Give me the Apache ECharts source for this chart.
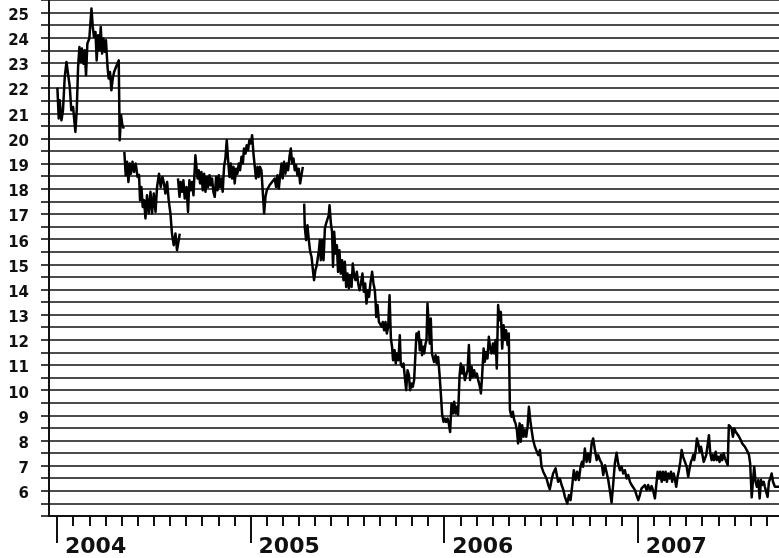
<!DOCTYPE html>
<html>
<head>
<meta charset="utf-8">
<script src="https://cdn.jsdelivr.net/npm/echarts@6/dist/echarts.min.js"></script>
<style>
html,body{margin:0;padding:0;background:#fff;}
#chart{width:779px;height:558px;}
</style>
</head>
<body>
<div id="chart"></div>
<script>
// Price series, [decimal year, value]; separate arrays where the line is broken
const seg1 = [[2004.002,22.02],[2004.009,20.79],[2004.014,21.52],[2004.023,20.72],[2004.031,21.12],[2004.040,22.44],[2004.049,23.04],[2004.057,22.97],[2004.066,22.05],[2004.074,21.12],[2004.083,21.25],[2004.095,20.26],[2004.102,21.12],[2004.109,22.84],[2004.116,23.63],[2004.123,23.04],[2004.129,23.57],[2004.136,22.97],[2004.143,23.50],[2004.150,22.51],[2004.157,23.77],[2004.167,23.97],[2004.178,25.16],[2004.185,24.43],[2004.191,24.03],[2004.199,24.23],[2004.205,23.10],[2004.212,24.10],[2004.219,23.50],[2004.226,24.43],[2004.233,23.37],[2004.240,23.97],[2004.247,23.44],[2004.253,23.90],[2004.261,22.84],[2004.267,22.38],[2004.274,22.64],[2004.281,21.91],[2004.288,22.38],[2004.295,22.64],[2004.305,22.84],[2004.319,23.10],[2004.324,19.93],[2004.331,20.92],[2004.338,20.52],[2004.345,20.39]];
const seg2 = [[2004.348,19.46],[2004.355,18.54],[2004.362,19.07],[2004.369,18.27],[2004.376,19.00],[2004.382,18.60],[2004.390,19.07],[2004.398,18.67],[2004.407,19.00],[2004.416,18.47],[2004.424,18.55],[2004.429,17.55],[2004.436,18.07],[2004.443,17.28],[2004.450,17.55],[2004.457,16.82],[2004.465,17.74],[2004.474,17.02],[2004.483,17.88],[2004.491,17.02],[2004.500,17.81],[2004.509,17.08],[2004.517,18.07],[2004.527,18.60],[2004.536,18.07],[2004.545,18.47],[2004.553,18.21],[2004.560,17.81],[2004.569,18.27],[2004.577,17.55],[2004.586,17.02],[2004.594,16.22],[2004.603,15.76],[2004.612,16.22],[2004.620,15.56],[2004.629,15.96],[2004.634,16.22]];
const seg3 = [[2004.625,18.41],[2004.633,17.68],[2004.639,18.27],[2004.646,17.88],[2004.653,18.34],[2004.660,17.61],[2004.669,18.07],[2004.677,17.08],[2004.684,18.34],[2004.691,17.94],[2004.698,18.27],[2004.705,17.74],[2004.715,19.33],[2004.726,18.41],[2004.732,18.74],[2004.739,18.21],[2004.746,18.67],[2004.753,17.94],[2004.760,18.60],[2004.767,17.88],[2004.774,18.47],[2004.780,18.07],[2004.788,18.54],[2004.794,18.14],[2004.801,18.41],[2004.808,17.88],[2004.815,17.68],[2004.822,18.47],[2004.829,17.94],[2004.836,18.54],[2004.842,18.07],[2004.850,18.41],[2004.856,17.88],[2004.863,18.87],[2004.870,19.20],[2004.877,19.93],[2004.884,19.14],[2004.891,18.47],[2004.898,19.00],[2004.904,18.41],[2004.912,18.87],[2004.918,18.21],[2004.925,18.80],[2004.932,18.60],[2004.939,19.00],[2004.946,18.74],[2004.953,19.27],[2004.960,19.00],[2004.966,19.60],[2004.974,19.40],[2004.980,19.73],[2004.987,19.53],[2004.994,19.93],[2005.001,19.80],[2005.008,20.13],[2005.015,19.40],[2005.022,18.87],[2005.028,18.41],[2005.036,18.87],[2005.042,18.47],[2005.049,18.87],[2005.056,18.74],[2005.070,17.02],[2005.077,17.68],[2005.084,17.94],[2005.090,18.01],[2005.098,18.14],[2005.104,18.07],[2005.111,18.27],[2005.118,18.21],[2005.125,18.41],[2005.132,18.07],[2005.139,18.54],[2005.146,18.01],[2005.153,18.54],[2005.160,19.00],[2005.166,18.41],[2005.173,19.07],[2005.180,18.60],[2005.187,19.00],[2005.194,18.74],[2005.201,19.27],[2005.208,19.60],[2005.215,19.00],[2005.222,19.20],[2005.228,18.74],[2005.235,18.94],[2005.242,18.54],[2005.249,18.80],[2005.256,18.21],[2005.263,18.54],[2005.270,18.87]];
const seg4 = [[2005.277,17.41],[2005.280,16.49],[2005.287,15.96],[2005.294,16.55],[2005.301,15.96],[2005.308,15.49],[2005.315,15.30],[2005.323,14.70],[2005.328,14.37],[2005.335,14.77],[2005.342,14.96],[2005.353,15.56],[2005.358,15.96],[2005.363,15.16],[2005.370,15.96],[2005.377,15.16],[2005.384,16.42],[2005.390,16.62],[2005.397,16.69],[2005.404,16.95],[2005.408,17.35],[2005.415,16.62],[2005.421,16.29],[2005.426,14.90],[2005.432,16.29],[2005.439,15.43],[2005.446,15.76],[2005.452,14.70],[2005.459,15.56],[2005.466,14.63],[2005.473,15.16],[2005.480,14.37],[2005.487,15.10],[2005.494,14.10],[2005.501,14.63],[2005.508,14.04],[2005.514,14.57],[2005.522,14.10],[2005.528,15.03],[2005.535,14.57],[2005.542,14.37],[2005.549,14.70],[2005.556,14.24],[2005.563,13.97],[2005.570,14.24],[2005.578,14.63],[2005.585,13.91],[2005.592,14.24],[2005.599,13.44],[2005.606,13.97],[2005.612,13.71],[2005.620,14.30],[2005.628,14.70],[2005.635,14.24],[2005.642,13.97],[2005.646,13.51],[2005.649,12.91],[2005.656,13.38],[2005.663,12.71],[2005.669,12.65],[2005.677,12.52],[2005.683,12.71],[2005.690,12.38],[2005.697,12.71],[2005.704,12.25],[2005.711,12.52],[2005.718,13.77],[2005.725,12.05],[2005.731,11.72],[2005.736,11.19],[2005.744,11.59],[2005.750,11.06],[2005.757,11.46],[2005.764,11.19],[2005.771,12.18],[2005.776,11.06],[2005.783,10.93],[2005.790,11.06],[2005.797,10.53],[2005.804,10.00],[2005.811,10.79],[2005.818,10.60],[2005.824,10.00],[2005.832,10.26],[2005.838,10.13],[2005.845,10.40],
[2005.857,12.25],[2005.863,11.99],[2005.869,12.32],[2005.874,11.59],[2005.880,11.99],[2005.886,11.39],[2005.892,11.72],[2005.897,11.46],[2005.904,11.85],[2005.909,11.99],[2005.914,13.44],[2005.921,12.52],[2005.926,11.85],[2005.931,12.85],[2005.937,11.46],[2005.942,11.52],[2005.948,11.12],[2005.956,11.39],[2005.962,11.06],[2005.969,11.32],[2005.976,10.66],[2005.983,9.87],[2005.990,9.01],[2005.997,8.74],[2006.004,8.87],[2006.010,8.74],[2006.018,8.87],[2006.024,8.68],[2006.031,8.34],[2006.038,9.47],[2006.045,9.07],[2006.052,9.54],[2006.059,9.07],[2006.066,9.34],[2006.072,9.01],[2006.080,10.60],[2006.086,11.06],[2006.093,10.66],[2006.100,10.93],[2006.107,10.40],[2006.114,10.60],[2006.121,10.79],[2006.128,11.79],[2006.134,10.40],[2006.142,10.93],[2006.148,10.53],[2006.155,10.79],[2006.162,10.53],[2006.169,10.66],[2006.176,10.40],[2006.183,10.20],[2006.190,9.87],[2006.196,10.53],[2006.204,11.65],[2006.210,11.12],[2006.217,11.52],[2006.224,11.26],[2006.231,12.12],[2006.238,11.65],[2006.245,11.46],[2006.252,11.85],[2006.258,11.46],[2006.266,11.99],[2006.272,10.86],[2006.279,13.38],[2006.286,12.78],[2006.293,13.11],[2006.300,11.65],[2006.307,12.58],[2006.314,11.99],[2006.320,12.38],[2006.328,11.79],[2006.334,12.25],[2006.340,9.21],[2006.348,8.94],[2006.355,9.14],[2006.362,8.81],[2006.369,8.68],[2006.376,8.41],[2006.382,7.88],[2006.390,8.68],[2006.396,7.95],[2006.403,8.61],[2006.410,8.15],[2006.417,8.41],[2006.424,8.15],[2006.431,8.54],[2006.438,9.34],[2006.445,8.81],[2006.452,8.41],[2006.460,8.01],[2006.469,7.75],
[2006.478,7.68],[2006.486,7.42],[2006.495,7.62],[2006.503,6.96],[2006.512,6.76],[2006.520,6.82],[2006.529,6.49],[2006.538,6.23],[2006.546,6.06],[2006.555,6.43],[2006.563,6.69],[2006.576,6.89],[2006.582,6.63],[2006.589,6.36],[2006.598,6.49],[2006.607,6.23],[2006.615,6.06],[2006.624,5.76],[2006.636,5.50],[2006.645,5.83],[2006.653,5.63],[2006.662,6.23],[2006.670,6.82],[2006.679,6.43],[2006.687,6.76],[2006.696,6.43],[2006.705,6.96],[2006.712,7.15],[2006.718,6.96],[2006.727,7.68],[2006.736,7.15],[2006.744,7.48],[2006.753,7.15],[2006.762,7.88],[2006.770,8.08],[2006.779,7.62],[2006.788,7.22],[2006.796,7.42],[2006.805,7.22],[2006.814,7.09],[2006.822,6.63],[2006.831,7.02],[2006.839,6.96],[2006.848,6.43],[2006.856,6.03],[2006.865,5.53],[2006.873,6.23],[2006.882,7.09],[2006.891,7.51],[2006.899,7.09],[2006.908,6.82],[2006.917,6.96],[2006.925,6.69],[2006.934,6.82],[2006.943,6.49],[2006.951,6.63],[2006.960,6.36],[2006.969,6.23],[2006.977,6.16],[2006.986,6.03],[2006.994,5.83],[2007.003,5.63],[2007.011,5.83],[2007.020,6.10],[2007.028,6.03],[2007.037,6.23],[2007.046,6.03],[2007.054,6.23],[2007.063,6.03],[2007.072,6.19],[2007.080,6.00],[2007.089,5.70],
[2007.094,5.74],[2007.103,6.76],[2007.110,6.49],[2007.116,6.76],[2007.124,6.36],[2007.130,6.76],[2007.137,6.43],[2007.144,6.76],[2007.151,6.36],[2007.158,6.69],[2007.165,6.49],[2007.172,6.76],[2007.178,6.36],[2007.186,6.69],[2007.192,6.49],[2007.199,6.16],[2007.206,6.56],[2007.213,6.82],[2007.220,7.15],[2007.227,7.62],[2007.235,7.35],[2007.244,7.15],[2007.253,6.96],[2007.261,6.56],[2007.268,6.89],[2007.275,7.15],[2007.282,7.29],[2007.287,7.42],[2007.292,7.22],[2007.299,7.55],[2007.306,8.08],[2007.313,7.88],[2007.320,7.55],[2007.327,7.75],[2007.333,7.49],[2007.341,7.15],[2007.347,7.22],[2007.354,7.42],[2007.361,7.35],[2007.368,8.21],[2007.375,7.49],[2007.382,7.22],[2007.389,7.42],[2007.395,7.22],[2007.403,7.55],[2007.409,7.22],[2007.416,7.35],[2007.423,7.15],[2007.430,7.42],[2007.437,7.22],[2007.444,7.49],[2007.451,7.29],[2007.457,7.35],[2007.465,7.02],[2007.471,8.61],[2007.478,8.61],[2007.485,8.48],[2007.492,8.15],[2007.499,8.48],[2007.506,8.35],[2007.513,8.28],[2007.519,8.21],[2007.527,8.15],[2007.533,8.01],[2007.540,7.88],[2007.547,7.95],[2007.554,7.75],[2007.561,7.68],[2007.568,7.55],[2007.575,7.42],[2007.581,7.09],[2007.589,5.74],[2007.595,6.36],[2007.602,6.96],[2007.609,6.36],[2007.616,6.16],[2007.623,6.43],[2007.630,5.70],[2007.637,6.43],[2007.643,6.23],[2007.651,6.36],[2007.657,6.16],[2007.664,6.10],[2007.671,5.76],[2007.678,6.36],[2007.685,6.49],[2007.692,6.69],[2007.699,6.36],[2007.709,6.16],[2007.716,6.23],[2007.719,6.10],[2007.730,6.16]];

const segments = [seg1, seg2, seg3, seg4];
const yearTicks = [2004, 2005, 2006, 2007];
const monthTicks = [];
for (let y = 2004; y <= 2007; y++) { for (let m = 0; m < 12; m++) { const v = y + m / 12; if (v <= 2007.72) monthTicks.push(+v.toFixed(5)); } }

const X_MIN = 2003.9587, X_MAX = 2007.73;
const ink = '#111';

const chart = echarts.init(document.getElementById('chart'), null, {renderer: 'canvas'});
chart.setOption({
  animation: false,
  backgroundColor: '#fff',
  grid: {left: 49, right: 0, top: 0, bottom: 42, containLabel: false},
  xAxis: [{
    type: 'value', min: X_MIN, max: X_MAX, position: 'bottom',
    axisLine: {show: true, onZero: false, lineStyle: {color: ink, width: 2}},
    axisTick: {show: true, inside: false, length: 10, customValues: monthTicks, lineStyle: {color: ink, width: 2}},
    axisLabel: {show: true, customValues: yearTicks, margin: 20, align: 'left', padding: [0,0,0,8],
      formatter: v => String(Math.round(v)),
      color: ink, fontFamily: 'DejaVu Sans', fontWeight: 'bold', fontSize: 22},
    splitLine: {show: false}
  }, {
    type: 'value', min: X_MIN, max: X_MAX, position: 'bottom',
    axisLine: {show: false, onZero: false},
    axisTick: {show: true, inside: false, length: 27, customValues: yearTicks, lineStyle: {color: ink, width: 2}},
    axisLabel: {show: false},
    splitLine: {show: false}
  }],
  yAxis: {
    type: 'value', min: 5, max: 25.5, interval: 0.5,
    axisLine: {show: true, lineStyle: {color: ink, width: 2}},
    axisTick: {show: true, inside: false, length: 8, lineStyle: {color: ink, width: 1.6}},
    axisLabel: {show: true, margin: 20,
      formatter: v => (Math.abs(v - Math.round(v)) < 1e-6 && v >= 6 && v <= 25) ? '{v|' + Math.round(v) + '}' : '',
      rich: {v: {padding: [7,0,0,0], color: ink, fontFamily: 'DejaVu Sans', fontWeight: 'bold', fontSize: 15}},
      color: ink, fontFamily: 'DejaVu Sans', fontWeight: 'bold', fontSize: 15},
    splitLine: {show: true, lineStyle: {color: ink, width: 1.6}}
  },
  series: segments.map(seg => ({
    type: 'line', xAxisIndex: 0, data: seg, showSymbol: false, symbol: 'none',
    lineStyle: {color: '#000', width: 2.5, join: 'round'}, z: 5
  }))
});
</script>
</body>
</html>
